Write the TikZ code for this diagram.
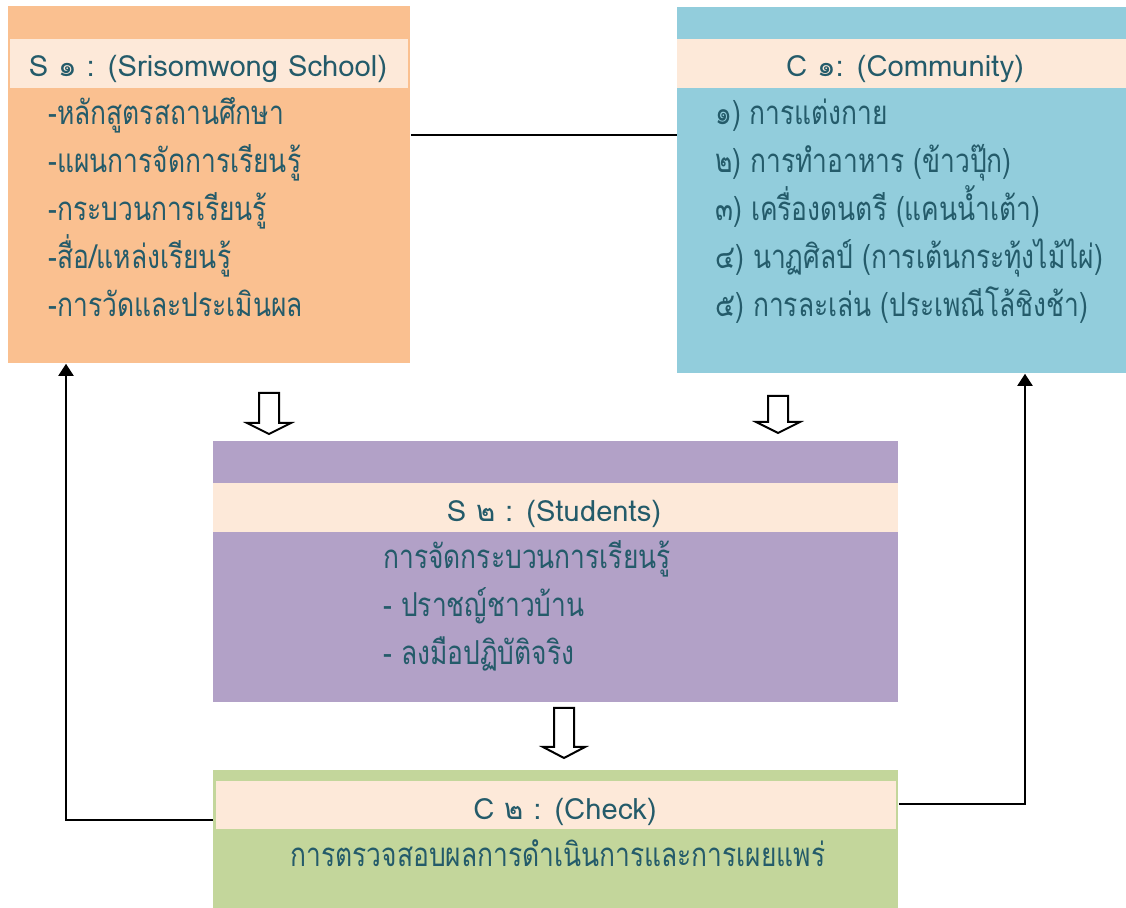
\documentclass[tikz,border=0pt]{standalone}
\usepackage{fontspec}
\setmainfont[Script=Thai]{Loma}
\newfontfamily\narrowthai[Script=Thai,FakeStretch=0.8]{Loma}
\usetikzlibrary{positioning,arrows.meta}
\definecolor{schoolorange}{HTML}{FAC090}
\definecolor{commblue}{HTML}{92CDDC}
\definecolor{studpurple}{HTML}{B2A1C7}
\definecolor{checkgreen}{HTML}{C3D69B}
\definecolor{bandpeach}{HTML}{FDE9D9}
\definecolor{inkteal}{HTML}{245B6A}

\begin{document}
\begin{tikzpicture}
    [%%%%%%%%%%%%%%%%%%%%%%%%%%%%%%%%%%%%%%%%%%%%%%%%%%%%%%%%%%
        x=0.5pt,y=-0.5pt,
        box/.style={rectangle,inner sep=0pt,anchor=north west},
        band/.style={box,fill=bandpeach,minimum height=24.5pt},
        title/.style={anchor=base,text=inkteal,font=\fontsize{14.6}{18}\selectfont},
        item/.style={anchor=base west,text=inkteal,font=\narrowthai\fontsize{16.5}{20}\selectfont,inner sep=0pt},
        hollow/.style={draw=black,fill=white,line width=1pt,line join=miter},
        feedback/.style={line width=1pt,-{Triangle[width=7.5pt,length=6pt]}}
    ]%%%%%%%%%%%%%%%%%%%%%%%%%%%%%%%%%%%%%%%%%%%%%%%%%%%%%%%%%%
    \useasboundingbox (0,0) rectangle (1126,908);

    % S1 : school
    \node[box,fill=schoolorange,minimum width=201pt,minimum height=178.5pt] (s1) at (8,6) {};
    \node[band,minimum width=199pt] (s1band) at (10,39) {};
    \node[title] (s1title) at (208,77) {S ๑ : (Srisomwong School)};
    \node[item] (s1a) at (48,125) {-หลักสูตรสถานศึกษา};
    \node[item] (s1b) at (48,173) {-แผนการจัดการเรียนรู้};
    \node[item] (s1c) at (48,221) {-กระบวนการเรียนรู้};
    \node[item] (s1d) at (48,269) {-สื่อ/แหล่งเรียนรู้};
    \node[item] (s1e) at (48,317) {-การวัดและประเมินผล};

    % C1 : community
    \node[box,fill=commblue,minimum width=224.5pt,minimum height=183pt] (c1) at (677,7) {};
    \node[band,minimum width=224.5pt] (c1band) at (677,39) {};
    \node[title] (c1title) at (905,77) {C ๑: (Community)};
    \node[item] (c1a) at (715,125) {๑) การแต่งกาย};
    \node[item] (c1b) at (715,173) {๒) การทำอาหาร (ข้าวปุ๊ก)};
    \node[item] (c1c) at (715,221) {๓) เครื่องดนตรี (แคนน้ำเต้า)};
    \node[item] (c1d) at (715,269) {๔) นาฏศิลป์ (การเต้นกระทุ้งไม้ไผ่)};
    \node[item] (c1e) at (715,317) {๕) การละเล่น (ประเพณีโล้ชิงช้า)};

    % S2 : students
    \node[box,fill=studpurple,minimum width=342.5pt,minimum height=130.5pt] (s2) at (213,441) {};
    \node[band,minimum width=342.5pt] (s2band) at (213,483) {};
    \node[title] (s2title) at (554,522) {S ๒ : (Students)};
    \node[item] (s2a) at (383,569) {การจัดกระบวนการเรียนรู้};
    \node[item] (s2b) at (383,617) {- ปราชญ์ชาวบ้าน};
    \node[item] (s2c) at (383,665) {- ลงมือปฏิบัติจริง};

    % C2 : check
    \node[box,fill=checkgreen,minimum width=342.5pt,minimum height=69pt] (c2) at (213,770) {};
    \node[band,minimum width=340pt,minimum height=24pt] (c2band) at (216,781) {};
    \node[title] (c2title) at (565,820) {C ๒ : (Check)};
    \node[item,anchor=base] (c2a) at (558,867) {การตรวจสอบผลการดำเนินการและการเผยแพร่};

    % hollow arrows (top centre of each)
    \coordinate (down1) at (269,393);
    \coordinate (down2) at (778,396);
    \coordinate (down3) at (564,708);
    \draw[hollow] (down1) ++(-10,0) -- ++(20,0) -- ++(0,30) -- ++(12,0) -- ++(-22,11)
                  -- ++(-22,-11) -- ++(12,0) -- cycle;
    \draw[hollow] (down2) ++(-10,0) -- ++(20,0) -- ++(0,26) -- ++(12,0) -- ++(-22,11)
                  -- ++(-22,-11) -- ++(12,0) -- cycle;
    \draw[hollow] (down3) ++(-10,0) -- ++(20,0) -- ++(0,39) -- ++(11,0) -- ++(-21,11)
                  -- ++(-21,-11) -- ++(11,0) -- cycle;

    % links
    \coordinate (link) at (540,135);
    \coordinate (backl) at (66,820);
    \coordinate (backr) at (1025,804);
    \draw[line width=1pt] (link -| s1.east) -- (link -| c1.west);
    \draw[feedback] (backl -| c2.west) -| (s1.south -| backl);
    \draw[feedback] (backr -| c2.east) -| (c1.south -| backr);
\end{tikzpicture}
\end{document}
